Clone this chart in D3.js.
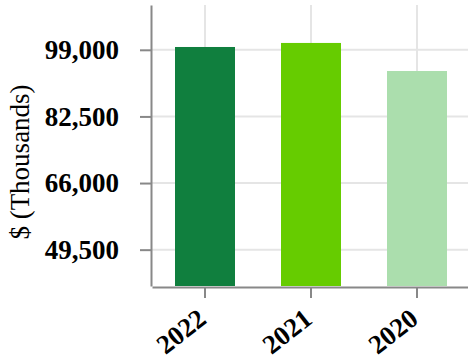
<!DOCTYPE html>
<html lang="en">
	<head>
		<meta charset="utf-8">
		<title>Bar chart</title>
        <script type="text/javascript" src="https://cdn.jsdelivr.net/npm/d3@7"></script>
		<style type="text/css">
			body { margin: 0; background: #fff; }
			.axis path, .axis line { stroke: #888; stroke-width: 2; }
			.axis text { font-family: "Times New Roman", Times, "Liberation Serif", serif; font-weight: bold; font-size: 27px; fill: #000; }
			.ylabel { font-family: "Times New Roman", Times, "Liberation Serif", serif; font-size: 27px; fill: #000; }
			.grid line { stroke: #e5e5e5; stroke-width: 2; }
		</style>
	</head>
	<body>
        <script type="text/javascript">

            var w = 468;
            var h = 360;

            // data
            var years = ['2022', '2021', '2020'];
            var amounts = [99700, 100700, 93750];
            var colors = ['#107f3e', '#66cc00', '#abdead'];
            var yTicks = [49500, 66000, 82500, 99000];

            var plotLeft = 151, plotTop = 5, plotBottom = 286;

            var xScale = d3.scaleBand()
                        .domain(years)
                        .range([152, 470])
                        .paddingInner(0.434)
                        .paddingOuter(0.217);

            var yScale = d3.scaleLinear()
                        .domain([40500, 110100])
                        .range([plotBottom, plotTop]);

            var svg = d3.select('body')
                        .append('svg')
                        .attr('width', w)
                        .attr('height', h);

            //Horizontal grid
            svg.append('g')
                .attr('class', 'grid')
                .selectAll('line')
                .data(yTicks)
                .enter()
                .append('line')
                .attr('x1', 152)
                .attr('x2', w)
                .attr('y1', function(d) { return yScale(d); })
                .attr('y2', function(d) { return yScale(d); });

            //Vertical grid
            svg.append('g')
                .attr('class', 'grid')
                .selectAll('line')
                .data(years)
                .enter()
                .append('line')
                .attr('x1', function(d) { return xScale(d) + xScale.bandwidth() / 2; })
                .attr('x2', function(d) { return xScale(d) + xScale.bandwidth() / 2; })
                .attr('y1', plotTop)
                .attr('y2', plotBottom);

            //Bars
            svg.selectAll('rect')
                .data(years)
                .enter()
                .append('rect')
                .attr('x', function(d) { return xScale(d); })
                .attr('width', xScale.bandwidth())
                .attr('y', function(d, i) { return yScale(amounts[i]); })
                .attr('height', function(d, i) { return plotBottom - yScale(amounts[i]); })
                .attr('fill', function(d, i) { return colors[i]; });

            //Y axis
            var yAxis = d3.axisLeft(yScale)
                        .tickValues(yTicks)
                        .tickSize(11)
                        .tickSizeOuter(0)
                        .tickPadding(21)
                        .tickFormat(d3.format(','));

            svg.append('g')
                .attr('class', 'axis')
                .attr('transform', 'translate(' + plotLeft + ',0)')
                .call(yAxis);

            //X axis
            var xAxis = d3.axisBottom(xScale)
                        .tickSize(11)
                        .tickSizeOuter(0);

            var gx = svg.append('g')
                .attr('class', 'axis')
                .attr('transform', 'translate(0,287)')
                .call(xAxis);

            gx.selectAll('text')
                .attr('text-anchor', 'end')
                .attr('y', 0)
                .attr('dy', 0)
                .attr('transform', 'translate(3,35) rotate(-38)');

            //Y label
            svg.append('text')
                .attr('class', 'ylabel')
                .attr('transform', 'translate(29,162) rotate(-90)')
                .attr('text-anchor', 'middle')
                .text('$ (Thousands)');

		</script>
	</body>
</html>
